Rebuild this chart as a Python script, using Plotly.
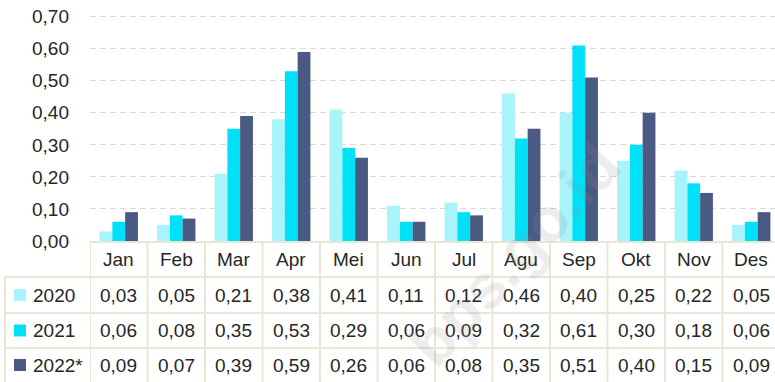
import plotly.graph_objects as go

months = ["Jan", "Feb", "Mar", "Apr", "Mei", "Jun", "Jul", "Agu", "Sep", "Okt", "Nov", "Des"]
series_names = ["2020", "2021", "2022*"]
values_2020 = [0.03, 0.05, 0.21, 0.38, 0.41, 0.11, 0.12, 0.46, 0.40, 0.25, 0.22, 0.05]
values_2021 = [0.06, 0.08, 0.35, 0.53, 0.29, 0.06, 0.09, 0.32, 0.61, 0.30, 0.18, 0.06]
values_2022 = [0.09, 0.07, 0.39, 0.59, 0.26, 0.06, 0.08, 0.35, 0.51, 0.40, 0.15, 0.09]
y_ticks = [0.0, 0.1, 0.2, 0.3, 0.4, 0.5, 0.6, 0.7]

colors = ["#A8F4FA", "#00E1F8", "#4B5A82"]
all_values = [values_2020, values_2021, values_2022]

W, H = 775, 382
LEFT = 90
PLOT_W = W - LEFT
AXIS_BOTTOM = 241          # pixel row of the value 0
FONT = "Liberation Sans, Arial, sans-serif"
TEXT_COLOR = "#262626"
LINE_COLOR = "#E6E8D5"


def py(p):
    """pixel row -> paper y"""
    return 1 - p / H


def px(p):
    """pixel column -> paper x"""
    return (p - LEFT) / PLOT_W


def fmt(v):
    return f"{v:.2f}".replace(".", ",")


fig = go.Figure()
for name, vals, col in zip(series_names, all_values, colors):
    fig.add_trace(go.Bar(
        x=list(range(len(months))), y=vals, name=name,
        marker=dict(color=col, line=dict(width=0)),
        showlegend=False,
    ))

shapes = []
annotations = []

# table rows (pixel bounds)
header_top, row_tops = 242, [277, 313, 348]
row_centers = [295, 330.5, 365]
header_center = 259.5

# horizontal rules
shapes.append(dict(type="line", xref="paper", yref="paper",
                   x0=0, x1=1.02, y0=py(header_top), y1=py(header_top),
                   line=dict(color=LINE_COLOR, width=2), layer="above"))
for t in row_tops:
    shapes.append(dict(type="line", xref="paper", yref="paper",
                       x0=px(5), x1=1.02, y0=py(t), y1=py(t),
                       line=dict(color=LINE_COLOR, width=2), layer="above"))

# vertical rules between month columns
for i in range(len(months) + 1):
    shapes.append(dict(type="line", xref="x", yref="paper",
                       x0=i - 0.5, x1=i - 0.5, y0=py(header_top), y1=0,
                       line=dict(color=LINE_COLOR, width=2), layer="above"))
# outer left rule of the series-name column
shapes.append(dict(type="line", xref="paper", yref="paper",
                   x0=px(5), x1=px(5), y0=py(row_tops[0]), y1=0,
                   line=dict(color=LINE_COLOR, width=2), layer="above"))

# month header labels
for i, m in enumerate(months):
    annotations.append(dict(x=i, y=py(header_center), xref="x", yref="paper",
                            text=m, showarrow=False, xanchor="center", yanchor="middle",
                            font=dict(family=FONT, size=19, color=TEXT_COLOR)))

# series rows: swatch, name, values
for name, vals, col, yc in zip(series_names, all_values, colors, row_centers):
    shapes.append(dict(type="rect", xref="paper", yref="paper",
                       x0=px(14), x1=px(26), y0=py(yc + 6), y1=py(yc - 6),
                       fillcolor=col, line=dict(width=0), layer="above"))
    annotations.append(dict(x=px(31), y=py(yc), xref="paper", yref="paper",
                            text=name, showarrow=False, xanchor="left", yanchor="middle",
                            font=dict(family=FONT, size=19, color=TEXT_COLOR)))
    for i, v in enumerate(vals):
        annotations.append(dict(x=i, y=py(yc), xref="x", yref="paper",
                                text=fmt(v), showarrow=False, xanchor="center", yanchor="middle",
                                font=dict(family=FONT, size=19, color=TEXT_COLOR)))

# faint site watermark
annotations.append(dict(x=px(515), y=py(255), xref="paper", yref="paper",
                        text="<b>bps.go.id</b>", showarrow=False, textangle=-47,
                        xanchor="center", yanchor="middle",
                        font=dict(family=FONT, size=62, color="rgba(140,140,140,0.16)")))

y_top = 0.7 + 16.7 * 0.7 / (AXIS_BOTTOM - 16.7)

fig.update_layout(
    width=W, height=H,
    margin=dict(l=LEFT, r=0, t=0, b=0, autoexpand=False),
    paper_bgcolor="white", plot_bgcolor="white",
    barmode="group", bargap=0.333, bargroupgap=0,
    separators=",.",
    xaxis=dict(range=[-0.5, 11.5 - 5 / 57.5], showticklabels=False, showgrid=False,
               zeroline=False, showline=False, ticks="", automargin=False),
    yaxis=dict(domain=[py(AXIS_BOTTOM), 1], range=[0, y_top], tickvals=y_ticks,
               tickformat=".2f", showgrid=True, gridcolor="#D9D9D9", gridwidth=1,
               griddash="6px,4px", zeroline=False, showline=False, ticks="",
               ticklabelstandoff=20, automargin=False,
               tickfont=dict(family=FONT, size=19, color=TEXT_COLOR)),
    shapes=shapes, annotations=annotations,
)

fig.write_html("out.html")
